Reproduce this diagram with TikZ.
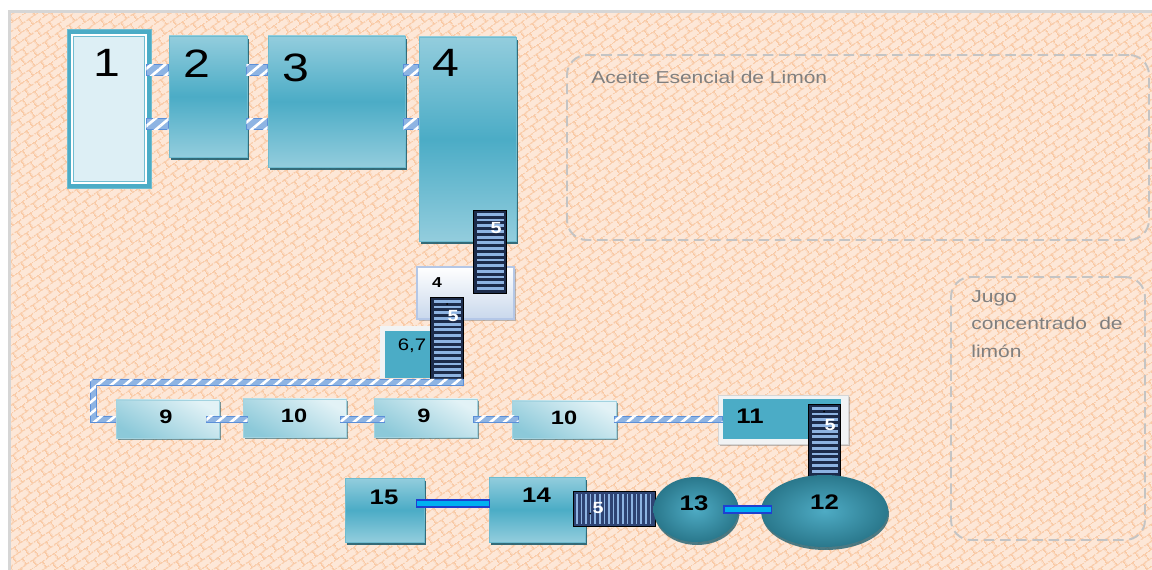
\documentclass[tikz,border=0pt]{standalone}
\usepackage{fontspec}
\setmainfont{Liberation Sans}[FakeStretch=1.22]
\usetikzlibrary{patterns,patterns.meta,fit,shadows,shapes.geometric}

\definecolor{bgpeach}{HTML}{FDE7D7}
\definecolor{brick}{HTML}{F9CAA6}
\definecolor{graybord}{HTML}{D6D6D6}
\definecolor{areagray}{HTML}{C4C4C4}
\definecolor{areatxt}{HTML}{7F7F7F}
\definecolor{teal}{HTML}{4BACC6}
\definecolor{tealL}{HTML}{93CDDD}
\definecolor{tealB}{HTML}{6FBCD0}
\definecolor{tealS}{HTML}{1F5F70}
\definecolor{pale}{HTML}{DDEFF5}
\definecolor{pipeL}{HTML}{8EB4E3}
\definecolor{pipeB}{HTML}{5B8FD9}
\definecolor{convD}{HTML}{1C2B4A}
\definecolor{convL}{HTML}{8DB3E2}
\definecolor{convHD}{HTML}{2E4373}
\definecolor{bpipe}{HTML}{00B0F0}
\definecolor{bpipeB}{HTML}{1F3FD0}
\definecolor{ellin}{HTML}{4EABC4}
\definecolor{ellout}{HTML}{2A788C}
\definecolor{smtop}{HTML}{E2F2F6}
\definecolor{smbot}{HTML}{8CC9D9}
\definecolor{smB}{HTML}{A3D3E0}
\definecolor{wbot}{HTML}{C9D8EC}
\definecolor{wB}{HTML}{B4C7E7}
\definecolor{framegray}{HTML}{F1F3F4}

\pgfdeclarepattern{
  name=bricks,
  type=uncolored,
  bottom left={\pgfpoint{0pt}{0pt}},
  top right={\pgfpoint{8pt}{8pt}},
  tile size={\pgfpoint{8pt}{8pt}},
  tile transformation={\pgftransformrotate{35}},
  code={
    \pgfsetlinewidth{0.8pt}
    \pgfpathmoveto{\pgfpoint{0pt}{2pt}}\pgfpathlineto{\pgfpoint{8pt}{2pt}}
    \pgfpathmoveto{\pgfpoint{0pt}{6pt}}\pgfpathlineto{\pgfpoint{8pt}{6pt}}
    \pgfpathmoveto{\pgfpoint{2pt}{2pt}}\pgfpathlineto{\pgfpoint{2pt}{6pt}}
    \pgfpathmoveto{\pgfpoint{6pt}{6pt}}\pgfpathlineto{\pgfpoint{6pt}{8pt}}
    \pgfpathmoveto{\pgfpoint{6pt}{0pt}}\pgfpathlineto{\pgfpoint{6pt}{2pt}}
    \pgfusepath{stroke}
  }
}

\newcommand\convV[5]{%
  \node[convbase, fit={(#2,#3)(#4,#5)}] (#1) {};
  \pgfmathtruncatemacro\nconv{(#5-#3-4)/5.7}
  \foreach \k in {0,...,\nconv}{\fill[convL] ({#2+2.5},{#3+2+\k*5.7}) rectangle ({#4-2.5},{#3+4.8+\k*5.7});}
  \draw[black, line width=0.7pt] (#1.north west) rectangle (#1.south east);
}
\newcommand\convH[5]{%
  \node[convbaseH, fit={(#2,#3)(#4,#5)}] (#1) {};
  \pgfmathtruncatemacro\nconv{(#4-#2-4)/4.6}
  \foreach \k in {0,...,\nconv}{\fill[convL] ({#2+2+\k*4.6},{#3+2}) rectangle ({#2+3.6+\k*4.6},{#5-2});}
  \draw[black, line width=0.7pt] (#1.north west) rectangle (#1.south east);
}

\begin{document}
\begin{tikzpicture}[x=0.02cm,y=-0.02cm,
  area/.style={draw=areagray, line width=1.1pt, dash pattern=on 6pt off 3.2pt, rounded corners=0.4cm, inner sep=0pt},
  areatext/.style={text=areatxt, font=\fontsize{9.8}{12}\selectfont, inner sep=0pt, anchor=base west},
  bigbox/.style={inner sep=0pt, draw=tealB, line width=0.5pt, top color=tealL, bottom color=tealL, middle color=teal,
     drop shadow={shadow xshift=0.04cm, shadow yshift=-0.06cm, fill=tealS, opacity=0.9}},
  smallbox/.style={inner sep=0pt, draw=smB, line width=0.5pt, top color=smtop, bottom color=smbot, shading angle=-30,
     drop shadow={shadow xshift=0.04cm, shadow yshift=-0.05cm, fill=tealS, opacity=0.6}},
  hpipe/.style={draw=pipeB, line width=0.4pt, fill=pipeL,
     postaction={pattern={Lines[angle=40,distance=5pt,line width=1.5pt]}, pattern color=white}},
  bpipest/.style={draw=bpipeB, line width=0.8pt, fill=bpipe},
  convbase/.style={inner sep=0pt, fill=convD},
  convbaseH/.style={inner sep=0pt, fill=convHD},
  bignum/.style={font=\fontsize{22.5}{22.5}\selectfont, inner sep=0pt},
  num/.style={font=\fontsize{11}{11}\selectfont\bfseries, inner sep=0pt},
  numb/.style={font=\fontsize{12}{12}\selectfont\bfseries, inner sep=0pt},
  fivel/.style={font=\fontsize{9.2}{9.2}\selectfont\bfseries, text=white, inner sep=0pt},
  ell/.style={ellipse, inner sep=0pt, inner color=ellin, outer color=ellout,
     drop shadow={shadow xshift=0.02cm, shadow yshift=-0.06cm, fill=tealS, opacity=0.8}}
]
\useasboundingbox (0,0) rectangle (1152,570);
\fill[white] (0,0) rectangle (1152,570);
\fill[bgpeach] (10,12) rectangle (1152,570);
\fill[pattern=bricks, pattern color=brick] (10,12) rectangle (1152,570);
\draw[graybord, line width=1.2pt] (9.5,570) -- (9.5,11.5) -- (1152,11.5);

% dashed areas
\node[area, fit={(567,55)(1149,240)}] (aceite) {};
\node[areatext] (aceitet) at (591,84) {Aceite Esencial de Limón};
\node[area, fit={(951,277)(1145,540)}] (jugo) {};
\node[areatext] (jugo1) at (971,303) {Jugo};
\node[areatext] (jugo2) at (971,330) {concentrado};
\node[areatext, anchor=base east] (jugo3) at (1123,330) {de};
\node[areatext] (jugo4) at (971,358) {limón};

% top row
\node[fit={(67,29.5)(151,188.5)}, inner sep=0pt, fill=teal, draw=tealB, line width=0.5pt] (b1) {};
\node[fit={(72.5,35)(145.5,183)}, inner sep=0pt, fill=pale, draw=white, line width=1.3pt] (b1i) {};
\draw[tealB, line width=0.5pt] (b1i.north west) ++(2.5,2.5) rectangle ([xshift=-0.05cm,yshift=0.05cm]b1i.south east);
\node[bigbox, fit={(169,36)(247,157)}] (b2) {};
\node[bigbox, fit={(268,36)(405,167)}] (b3) {};
\node[bigbox, fit={(419,37)(516,241)}] (b4) {};

\path[hpipe] ([xshift=-0.1cm]b1.east |- 0,64.5) rectangle (b2.west |- 0,75.5);
\path[hpipe] ([xshift=-0.1cm]b1.east |- 0,118.5) rectangle (b2.west |- 0,129.5);
\path[hpipe] ([xshift=-0.02cm]b2.east |- 0,64.5) rectangle (b3.west |- 0,75.5);
\path[hpipe] ([xshift=-0.02cm]b2.east |- 0,118.5) rectangle (b3.west |- 0,129.5);
\path[hpipe] ([xshift=-0.04cm]b3.east |- 0,64.5) rectangle (b4.west |- 0,75.5);
\path[hpipe] ([xshift=-0.04cm]b3.east |- 0,118.5) rectangle (b4.west |- 0,129.5);

% white box 4 and 6,7
\node[fit={(417,267)(514,319)}, inner sep=0pt, top color=white, bottom color=wbot, draw=wB, line width=0.6pt,
  drop shadow={shadow xshift=0.03cm, shadow yshift=-0.04cm, fill=gray, opacity=0.5}] (w4) {};
\node[fit={(380,326)(432,378)}, inner sep=0pt, fill=framegray] (b67f) {};
\node[fit={(385,331)(432,378)}, inner sep=0pt, fill=teal] (b67) {};

\convV{c1}{474}{211}{506}{293}
\convV{c2}{431}{298}{463}{381}

% long pipe
\path[hpipe] (90,379) -- (c2.south east |- 0,379) -- (c2.south east |- 0,385) -- (96,385) -- (96,416) -- (118,416) -- (118,422) -- (90,422) -- cycle;

% middle row
\node[smallbox, fit={(116,400)(219,438)}] (b9a) {};
\node[smallbox, fit={(243,399)(346,437)}] (b10a) {};
\node[smallbox, fit={(374,399)(477,437)}] (b9b) {};
\node[smallbox, fit={(512,401)(616,438)}] (b10b) {};
\node[fit={(718,395)(848,444)}, inner sep=0pt, fill=framegray, draw=graybord, line width=0.5pt,
  drop shadow={shadow xshift=0.03cm, shadow yshift=-0.04cm, fill=gray, opacity=0.5}] (b11f) {};
\node[fit={(723,399)(841,439)}, inner sep=0pt, fill=teal] (b11) {};

\path[hpipe] ([xshift=-0.26cm]b9a.east |- 0,416) rectangle ([xshift=0.1cm]b10a.west |- 0,422);
\path[hpipe] ([xshift=-0.12cm]b10a.east |- 0,416) rectangle ([xshift=0.22cm]b9b.west |- 0,422);
\path[hpipe] ([xshift=-0.08cm]b9b.east |- 0,416) rectangle ([xshift=0.14cm]b10b.west |- 0,422);
\path[hpipe] ([xshift=-0.04cm]b10b.east |- 0,416) rectangle (b11.west |- 0,422);

\convV{c3}{809}{405}{840}{477}

% bottom row
\node[bigbox, fit={(345,478)(424,542)}] (b15) {};
\node[bigbox, fit={(489,477)(585,542)}] (b14) {};
\convH{c4}{574}{492}{655}{526}
\node[ell, minimum width=2.54cm, minimum height=1.44cm] (e12) at (824.5,511) {};
\node[ell, minimum width=1.7cm, minimum height=1.3cm] (e13) at (696,509.5) {};
\path[bpipest] ([xshift=-0.16cm]b15.east |- 0,500) rectangle ([xshift=0.02cm]b14.west |- 0,507);
\path[bpipest] ([xshift=-0.3cm]e13.east |- 0,506) rectangle ([xshift=0.22cm]e12.west |- 0,513);

% labels
\node[bignum] (l1) at (106.5,62.5) {1};
\node[bignum] (l2) at (197,64) {2};
\node[bignum] (l3) at (295.5,67.5) {3};
\node[bignum] (l4) at (445.5,62.5) {4};
\node[font=\fontsize{8.2}{8.2}\selectfont\bfseries, inner sep=0pt] (l4b) at (437,283) {4};
\node[font=\fontsize{9.5}{9.5}\selectfont, inner sep=0pt, anchor=base] (l67) at (412,351) {6,7};
\node[fivel] (l5a) at (496,228) {5};
\node[fivel] (l5b) at (453,316) {5};
\node[fivel] (l5c) at (830,425) {5};
\node[fivel] (l5d) at (598,508) {5};
\fill[black] (447,304) circle (1);
\fill[black] (824,411.5) circle (1);
\fill[black] (590,513.5) circle (1);
\node[num] (l9a) at (166,417) {9};
\node[num] (l10a) at (294,416) {10};
\node[num] (l9b) at (424,416) {9};
\node[num] (l10b) at (564,418) {10};
\node[numb] (l11) at (750,416) {11};
\node[numb] (l12) at (824.5,502) {12};
\node[numb] (l13) at (694,503) {13};
\node[numb] (l14) at (536.5,495) {14};
\node[numb] (l15) at (384,497) {15};
\end{tikzpicture}
\end{document}
